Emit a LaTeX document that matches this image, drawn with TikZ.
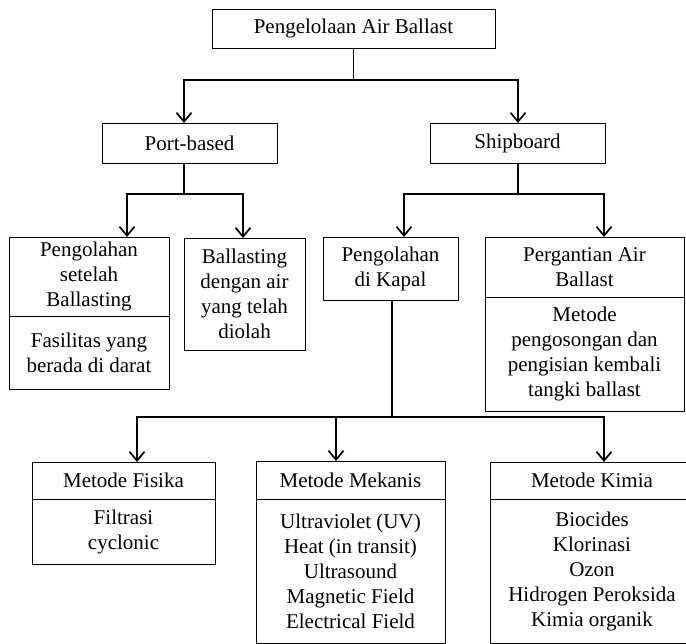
\documentclass[tikz,border=0pt]{standalone}
\usepackage{fontspec}
\setmainfont{Liberation Serif}
\usetikzlibrary{arrows.meta,positioning}

\begin{document}
\begin{tikzpicture}[x=1pt,y=-1pt,>={Straight Barb[length=9pt,width=15pt]},
                    line width=1.7pt,node distance=0pt]
  \tikzstyle{box}=[draw,line width=0.8pt,inner sep=0pt,outer sep=0pt,
                   align=center,font=\fontsize{21}{25}\selectfont]

  \useasboundingbox (0,0) rectangle (686,644);
  \clip (0,0) rectangle (686,644);

  \node[box,minimum width=283,minimum height=39]  (air)     at (353.5,28.5) {Pengelolaan Air Ballast};
  \node[box,minimum width=175,minimum height=40]  (port)    at (189.5,143)  {Port-based};
  \node[box,minimum width=175,minimum height=40]  (ship)    at (517.5,143)  {Shipboard};

  \node[box,minimum width=160,minimum height=79]  (olah)    at (89,276.5)   {Pengolahan\\setelah\\Ballasting};
  \node[box,minimum width=160,minimum height=73]  (darat)   [below=of olah] {Fasilitas yang\\berada di darat};
  \node[box,minimum width=121,minimum height=112] (diolah)  at (244.5,294)  {Ballasting\\dengan air\\yang telah\\diolah};
  \node[box,minimum width=135,minimum height=63]  (kapal)   at (390.5,268.5) {Pengolahan\\di Kapal};
  \node[box,minimum width=199,minimum height=60]  (ganti)   at (584.5,267)  {Pergantian Air\\Ballast};
  \node[box,minimum width=199,minimum height=114] (kosong)  [below=of ganti] {Metode\\pengosongan dan\\pengisian kembali\\tangki ballast};

  \node[box,minimum width=183,minimum height=37]  (fisika)  at (123.5,480.5) {Metode Fisika};
  \node[box,minimum width=183,minimum height=65]  (filtrasi) [below=of fisika] {Filtrasi\\cyclonic};
  \node[box,minimum width=189,minimum height=38]  (mekanis) at (350.5,480)  {Metode Mekanis};
  \node[box,minimum width=189,minimum height=144] (uv)      [below=of mekanis] {Ultraviolet (UV)\\Heat (in transit)\\Ultrasound\\Magnetic Field\\Electrical Field};
  \node[box,minimum width=204,minimum height=37]  (kimia)   at (592,480.5)  {Metode Kimia};
  \node[box,minimum width=204,minimum height=144] (biocide) [below=of kimia] {Biocides\\Klorinasi\\Ozon\\Hidrogen Peroksida\\Kimia organik};

  % bus points
  \coordinate (b1) at (184,80);
  \coordinate (b2) at (518,80);
  \coordinate (c1) at (127,194);
  \coordinate (c2) at (243,194);
  \coordinate (c3) at (404,194);
  \coordinate (c4) at (604,194);
  \coordinate (k)  at (392,417);
  \coordinate (d1) at (137,417);
  \coordinate (d2) at (336,417);
  \coordinate (d3) at (604,417);

  \draw (air.south) -- (air.south |- b1);
  \draw[<->] (port.north -| b1) |- (b2) -- (b2 |- ship.north);

  \draw (port.south -| b1) -- (b1 |- c1);
  \draw[<->] (olah.north -| c1) |- (c2) -- (c2 |- diolah.north);
  \draw (ship.south -| b2) -- (b2 |- c3);
  \draw[<->] (kapal.north -| c3) |- (c4) -- (c4 |- ganti.north);

  \draw (kapal.south -| k) -- (k);
  \draw[<->] (fisika.north -| d1) |- (d3) -- (d3 |- kimia.north);
  \draw[->] (d2) -- (d2 |- mekanis.north);
\end{tikzpicture}
\end{document}
